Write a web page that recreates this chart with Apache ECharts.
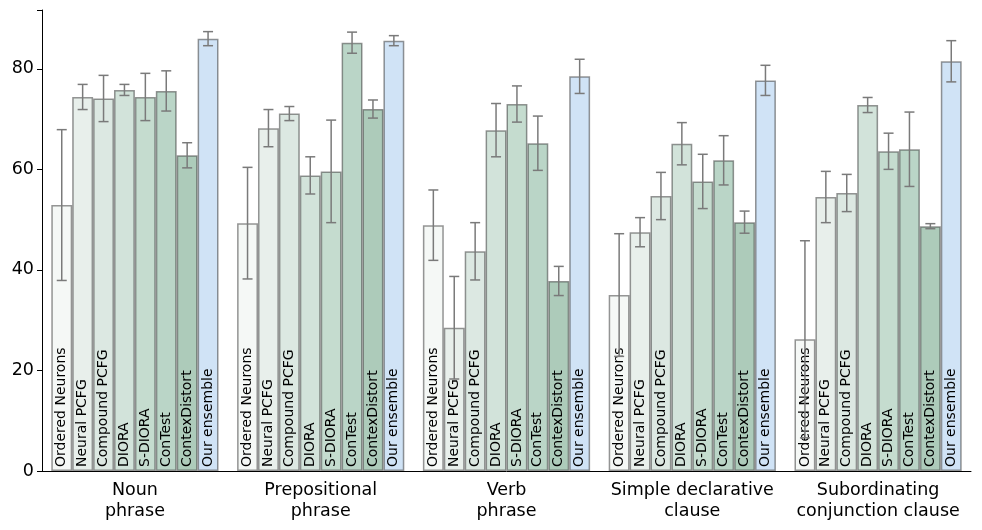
<!DOCTYPE html>
<html>
<head>
<meta charset="utf-8">
<script src="https://cdn.jsdelivr.net/npm/echarts@6/dist/echarts.min.js"></script>
<style>
  html, body { margin: 0; padding: 0; background: #fff; }
  #chart { width: 982px; height: 530px; }
</style>
</head>
<body>
<div id="chart"></div>
<script>
// phrase types on the x axis
var categories = ["Noun\nphrase", "Prepositional\nphrase", "Verb\nphrase",
                  "Simple declarative\nclause", "Subordinating\nconjunction clause"];

var models = ["Ordered Neurons", "Neural PCFG", "Compound PCFG", "DIORA",
              "S-DIORA", "ConTest", "ContexDistort", "Our ensemble"];

var colors = ["#f5f8f6", "#e8efeb", "#dce8e2", "#d2e3da",
              "#c5dccf", "#bad5c7", "#adcbba", "#d0e3f6"];

// mean recall per model, one value per phrase type
var orderedNeurons = [52.9, 49.3, 48.9, 35.0, 26.2];
var neuralPcfg     = [74.4, 68.2, 28.5, 47.5, 54.5];
var compoundPcfg   = [74.1, 71.1, 43.7, 54.7, 55.3];
var diora          = [75.8, 58.8, 67.8, 65.1, 72.8];
var sDiora         = [74.4, 59.6, 73.0, 57.6, 63.6];
var conTest        = [75.6, 85.2, 65.2, 61.8, 64.0];
var contexDistort  = [62.8, 72.0, 37.8, 49.5, 48.7];
var ensemble       = [86.0, 85.6, 78.5, 77.7, 81.5];

// error bar half-lengths (std)
var orderedNeuronsErr = [15.0, 11.1, 7.0, 12.2, 19.6];
var neuralPcfgErr     = [2.5, 3.7, 10.2, 2.9, 5.1];
var compoundPcfgErr   = [4.6, 1.4, 5.7, 4.7, 3.7];
var dioraErr          = [1.1, 3.7, 5.3, 4.2, 1.5];
var sDioraErr         = [4.7, 10.2, 3.6, 5.4, 3.6];
var conTestErr        = [4.0, 2.1, 5.4, 4.9, 7.4];
var contexDistortErr  = [2.5, 1.8, 2.9, 2.2, 0.5];
var ensembleErr       = [1.4, 1.0, 3.4, 3.0, 4.1];

var means = [orderedNeurons, neuralPcfg, compoundPcfg, diora, sDiora, conTest, contexDistort, ensemble];
var errs = [orderedNeuronsErr, neuralPcfgErr, compoundPcfgErr, dioraErr, sDioraErr, conTestErr, contexDistortErr, ensembleErr];

var font = "DejaVu Sans";
var groupWidth = 0.9;

var series = models.map(function (name, i) {
    return {
        name: name,
        type: "bar",
        data: means[i],
        barGap: "0%",
        barCategoryGap: "10%",
        itemStyle: {
            color: colors[i],
            borderColor: "rgba(45,45,45,0.5)",
            borderWidth: 1.5
        },
        label: {
            show: true,
            position: "insideBottom",
            rotate: 90,
            align: "left",
            verticalAlign: "middle",
            distance: 4,
            formatter: "{a}",
            color: "#000",
            fontFamily: font,
            fontSize: 14
        },
        z: 2
    };
});

var errData = [];
models.forEach(function (name, s) {
    categories.forEach(function (c, k) {
        errData.push([k, s, means[s][k] - errs[s][k], means[s][k] + errs[s][k]]);
    });
});

series.push({
    type: "custom",
    name: "err",
    data: errData,
    encode: { x: 0, y: [2, 3] },
    z: 5,
    renderItem: function (params, api) {
        var k = api.value(0), s = api.value(1);
        var lo = api.coord([k, api.value(2)]);
        var hi = api.coord([k, api.value(3)]);
        var band = api.size([1, 0])[0];
        var x = lo[0] + band * (-groupWidth / 2 + (s + 0.5) * groupWidth / models.length);
        var cap = 5;
        var st = { stroke: "#7a7a7a", lineWidth: 1.5 };
        return {
            type: "group",
            children: [
                { type: "line", shape: { x1: x, y1: hi[1], x2: x, y2: lo[1] }, style: st },
                { type: "line", shape: { x1: x - cap, y1: hi[1], x2: x + cap, y2: hi[1] }, style: st },
                { type: "line", shape: { x1: x - cap, y1: lo[1], x2: x + cap, y2: lo[1] }, style: st }
            ]
        };
    }
});

var chart = echarts.init(document.getElementById("chart"));
chart.setOption({
    animation: false,
    backgroundColor: "#fff",
    grid: { left: 42, right: 11, top: 10, bottom: 59 },
    xAxis: {
        type: "category",
        data: categories,
        axisLine: { lineStyle: { color: "#000", width: 1 } },
        axisTick: { alignWithLabel: true, length: 5, lineStyle: { color: "#000" } },
        axisLabel: {
            color: "#000", fontFamily: font, fontSize: 17.5,
            lineHeight: 21, margin: 9, interval: 0
        }
    },
    yAxis: {
        type: "value",
        min: 0,
        max: 91.7,
        interval: 20,
        splitLine: { show: false },
        axisLine: { show: true, lineStyle: { color: "#000", width: 1 } },
        axisTick: { show: true, length: 5, lineStyle: { color: "#000" } },
        axisLabel: {
            color: "#000", fontFamily: font, fontSize: 17.5, margin: 8,
            formatter: function (v) { return v % 20 === 0 ? v : ""; }
        }
    },
    series: series
});
</script>
</body>
</html>
